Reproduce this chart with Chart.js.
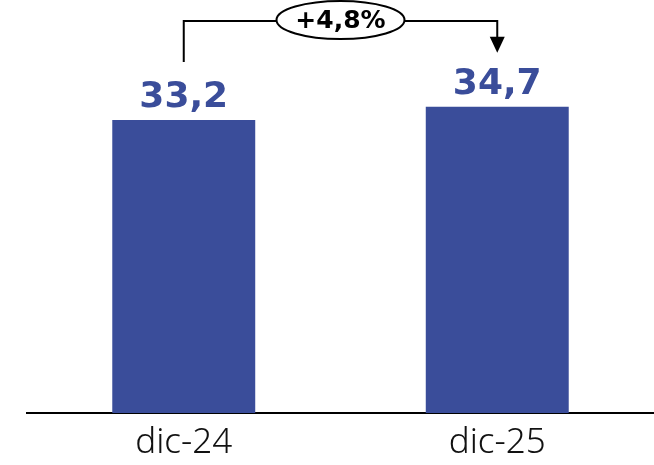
<!DOCTYPE html>
<html><head><meta charset="utf-8">
<script src="https://cdn.jsdelivr.net/npm/chart.js@4.4.0/dist/chart.umd.min.js"></script>
<style>html,body{margin:0;padding:0;background:#fff}#w{width:654px;height:465px}</style>
</head><body><div id="w"><canvas id="c"></canvas></div>
<script>
const categories = ['dic-24', 'dic-25'];
const values = [33.2, 34.7];
const valueLabels = ['33,2', '34,7'];
const changeLabel = '+4,8%';
const barColor = '#3A4D9A';

const labelPlugin = {
  id: 'labels',
  afterDatasetsDraw(chart) {
    const ctx = chart.ctx;
    const meta = chart.getDatasetMeta(0);
    ctx.save();
    ctx.fillStyle = barColor;
    ctx.font = 'bold 36px "DejaVu Sans"';
    ctx.textAlign = 'center';
    ctx.textBaseline = 'alphabetic';
    meta.data.forEach((b, i) => {
      ctx.fillText(valueLabels[i], b.x, b.y - 13);
    });
    // bracket annotation
    const x1 = meta.data[0].x, x2 = meta.data[1].x;
    const yTop = 21;
    const yLeft = meta.data[0].y - 58;
    const yRightTip = meta.data[1].y - 54;
    ctx.strokeStyle = '#000';
    ctx.lineWidth = 2;
    ctx.beginPath();
    ctx.moveTo(x1, yLeft);
    ctx.lineTo(x1, yTop);
    ctx.lineTo(x2, yTop);
    ctx.lineTo(x2, yRightTip - 14);
    ctx.stroke();
    ctx.fillStyle = '#000';
    ctx.beginPath();
    ctx.moveTo(x2 - 7.5, yRightTip - 16);
    ctx.lineTo(x2 + 7.5, yRightTip - 16);
    ctx.lineTo(x2, yRightTip);
    ctx.closePath();
    ctx.fill();
    // ellipse
    const cx = (x1 + x2) / 2, cy = 20;
    ctx.beginPath();
    ctx.ellipse(cx, cy, 64, 19, 0, 0, Math.PI * 2);
    ctx.fillStyle = '#fff';
    ctx.fill();
    ctx.lineWidth = 2;
    ctx.stroke();
    ctx.fillStyle = '#000';
    ctx.font = 'bold 25px "DejaVu Sans"';
    ctx.textBaseline = 'middle';
    ctx.fillText(changeLabel, cx, cy + 1);
    ctx.restore();
  }
};

new Chart(document.getElementById('c'), {
  type: 'bar',
  data: {
    labels: categories,
    datasets: [{ data: values, backgroundColor: barColor, categoryPercentage: 1, barPercentage: 0.456 }]
  },
  options: {
    responsive: true,
    maintainAspectRatio: false,
    animation: false,
    layout: { padding: { left: 27, right: 0, top: 0, bottom: 0 } },
    plugins: { legend: { display: false }, tooltip: { enabled: false } },
    scales: {
      x: {
        afterFit(scale) { scale.height = 52; },
        grid: { display: false, drawTicks: false },
        border: { display: true, color: '#000', width: 2 },
        ticks: { color: '#111', font: { family: 'Noto Sans', size: 35, weight: 300 }, padding: 9 }
      },
      y: {
        display: false,
        min: 0,
        max: 46.8
      }
    }
  },
  plugins: [labelPlugin]
});
</script></body></html>
